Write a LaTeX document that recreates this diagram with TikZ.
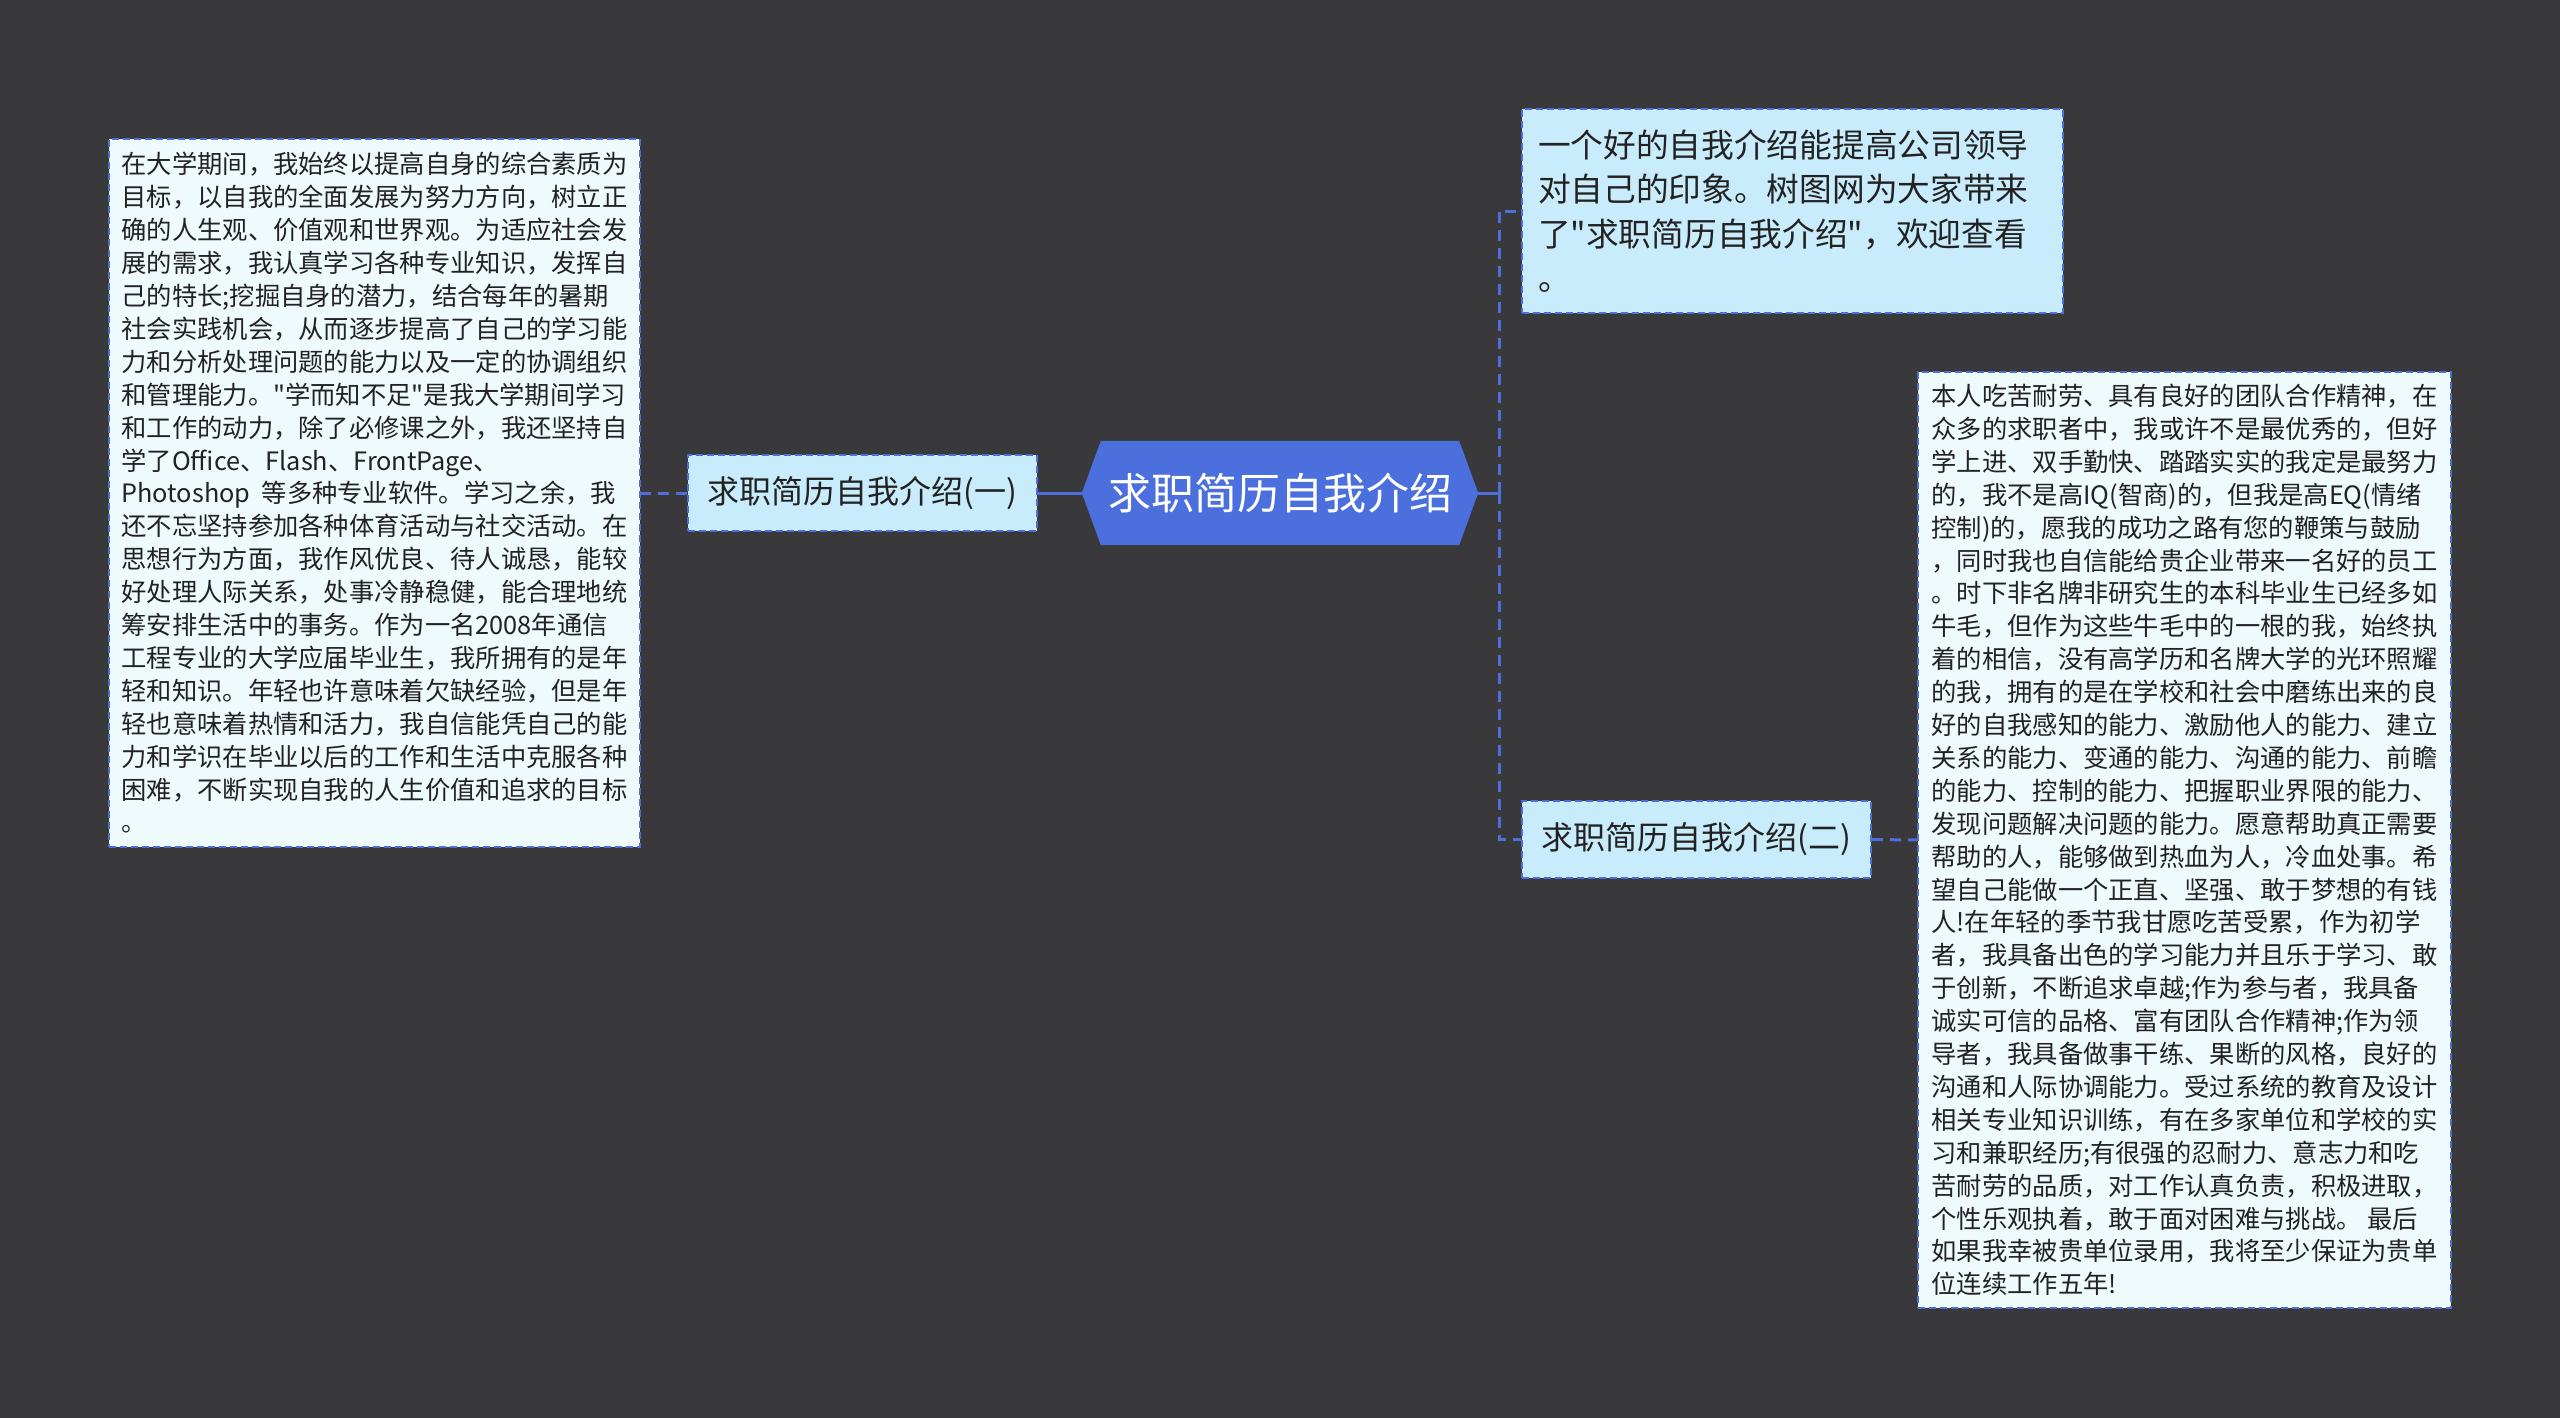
\documentclass[tikz,border=0pt]{standalone}
\usepackage{fontspec}
\newfontfamily\cjk{Noto Sans CJK SC}
\usetikzlibrary{calc,backgrounds}
\definecolor{bg}{RGB}{57,56,59}
\definecolor{mainblue}{RGB}{76,111,222}
\definecolor{lineblue}{RGB}{78,110,220}
\definecolor{subfill}{RGB}{201,236,252}
\definecolor{textfill}{RGB}{239,250,253}
\definecolor{ink}{RGB}{34,34,34}
\begin{document}
\begin{tikzpicture}[x=1pt,y=-1pt,
  every node/.style={font=\cjk},
  box/.style={draw=lineblue, line width=2pt, dash pattern=on 7pt off 4pt, inner sep=0pt, text=ink, align=left},
  longtext/.style={box, fill=textfill, font=\cjk\fontsize{25.3}{32.9}\selectfont},
  subbox/.style={box, fill=subfill, font=\cjk\fontsize{32}{40}\selectfont},
  conn/.style={draw=lineblue, line width=3pt},
  dconn/.style={draw=lineblue, line width=3pt, dash pattern=on 11pt off 7pt}]
\useasboundingbox (0,0) rectangle (2560,1418);

\node[font=\cjk\fontsize{43}{50}\selectfont, text=white, minimum width=396pt, minimum height=104pt, inner sep=0pt] (c) at (1280,493) {求职简历自我介绍};

\node[subbox, minimum width=349pt, minimum height=76pt] (lsub) at (862.5,493) {求职简历自我介绍(一)};
\node[subbox, minimum width=349pt, minimum height=77pt] (rsub) at (1696.5,839.5) {求职简历自我介绍(二)};

\node[box, fill=subfill, font=\cjk\fontsize{32.7}{44.5}\selectfont, text width=509pt, inner xsep=16pt, minimum height=204pt] (top) at (1792.5,211) {一个好的自我介绍能提高公司领导\\对自己的印象。树图网为大家带来\\了"求职简历自我介绍"，欢迎查看\\。};

\node[longtext, minimum width=531pt, minimum height=708pt] (ltext) at (374.5,493) {在大学期间，我始终以提高自身的综合素质为\\目标，以自我的全面发展为努力方向，树立正\\确的人生观、价值观和世界观。为适应社会发\\展的需求，我认真学习各种专业知识，发挥自\\己的特长;挖掘自身的潜力，结合每年的暑期\\社会实践机会，从而逐步提高了自己的学习能\\力和分析处理问题的能力以及一定的协调组织\\和管理能力。"学而知不足"是我大学期间学习\\和工作的动力，除了必修课之外，我还坚持自\\学了Office、Flash、FrontPage、\\Photoshop\ \ 等多种专业软件。学习之余，我\\还不忘坚持参加各种体育活动与社交活动。在\\思想行为方面，我作风优良、待人诚恳，能较\\好处理人际关系，处事冷静稳健，能合理地统\\筹安排生活中的事务。作为一名2008年通信\\工程专业的大学应届毕业生，我所拥有的是年\\轻和知识。年轻也许意味着欠缺经验，但是年\\轻也意味着热情和活力，我自信能凭自己的能\\力和学识在毕业以后的工作和生活中克服各种\\困难，不断实现自我的人生价值和追求的目标\\。};

\node[longtext, minimum width=533pt, minimum height=936pt] (rtext) at (2184.5,840) {本人吃苦耐劳、具有良好的团队合作精神，在\\众多的求职者中，我或许不是最优秀的，但好\\学上进、双手勤快、踏踏实实的我定是最努力\\的，我不是高IQ(智商)的，但我是高EQ(情绪\\控制)的，愿我的成功之路有您的鞭策与鼓励\\，同时我也自信能给贵企业带来一名好的员工\\。时下非名牌非研究生的本科毕业生已经多如\\牛毛，但作为这些牛毛中的一根的我，始终执\\着的相信，没有高学历和名牌大学的光环照耀\\的我，拥有的是在学校和社会中磨练出来的良\\好的自我感知的能力、激励他人的能力、建立\\关系的能力、变通的能力、沟通的能力、前瞻\\的能力、控制的能力、把握职业界限的能力、\\发现问题解决问题的能力。愿意帮助真正需要\\帮助的人，能够做到热血为人，冷血处事。希\\望自己能做一个正直、坚强、敢于梦想的有钱\\人!在年轻的季节我甘愿吃苦受累，作为初学\\者，我具备出色的学习能力并且乐于学习、敢\\于创新，不断追求卓越;作为参与者，我具备\\诚实可信的品格、富有团队合作精神;作为领\\导者，我具备做事干练、果断的风格，良好的\\沟通和人际协调能力。受过系统的教育及设计\\相关专业知识训练，有在多家单位和学校的实\\习和兼职经历;有很强的忍耐力、意志力和吃\\苦耐劳的品质，对工作认真负责，积极进取，\\个性乐观执着，敢于面对困难与挑战。\ 最后\\如果我幸被贵单位录用，我将至少保证为贵单\\位连续工作五年!};

\coordinate (j) at (1499,493);

\begin{pgfonlayer}{background}
  \fill[bg] (0,0) rectangle (2560,1418);
  \fill[mainblue] (c.west) -- ($(c.north west)+(19,0)$) -- ($(c.north east)+(-19,0)$) -- (c.east) -- ($(c.south east)+(-19,0)$) -- ($(c.south west)+(19,0)$) -- cycle;
  \draw[conn] (c.east) -- (j);
  \draw[dconn] (j) |- (top.west);
  \draw[dconn] (j) |- (rsub.west);
  \draw[conn] (c.west) -- (lsub.east);
  \draw[dconn] (lsub.west) -- (ltext.east);
  \draw[dconn] (rsub.east) -- (rtext.west);
\end{pgfonlayer}
\end{tikzpicture}
\end{document}
